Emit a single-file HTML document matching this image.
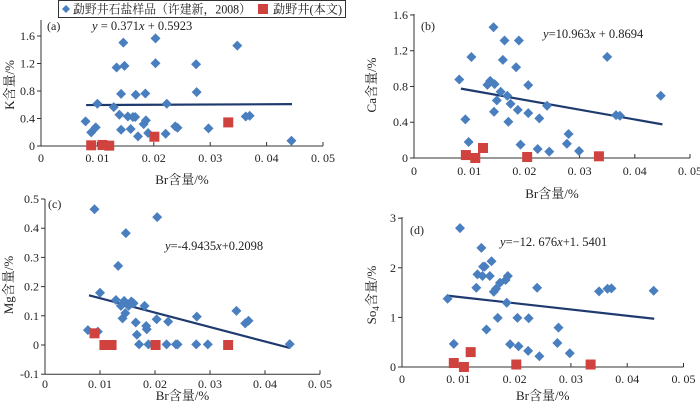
<!DOCTYPE html>
<html><head><meta charset="utf-8"><style>
html,body{margin:0;padding:0;background:#fff;}
svg{display:block;font-family:"Liberation Serif","Noto Serif CJK SC","Noto Sans CJK SC",serif;}
</style></head><body>
<svg id="chart" width="700" height="403" viewBox="0 0 700 403" xmlns="http://www.w3.org/2000/svg"></svg>
<script>
// ---- data: panel (a) K ----
const aBlueX=[0.0079,0.0089,0.0097,0.0100,0.0129,0.0134,0.0139,0.0142,0.0142,0.0146,0.0148,0.0154,0.0159,0.0163,0.0167,0.0168,0.0172,0.0182,0.0185,0.0186,0.0190,0.0203,0.0203,0.0221,0.0223,0.0238,0.0242,0.0275,0.0276,0.0297,0.0348,0.0363,0.0370,0.0444];
const aBlueY=[0.358,0.198,0.271,0.614,0.566,1.141,0.454,0.237,0.759,1.503,1.165,0.430,0.247,0.421,0.421,0.745,0.140,0.319,0.764,0.372,0.189,1.566,1.204,0.179,0.614,0.285,0.266,1.189,0.783,0.256,1.460,0.430,0.440,0.077];
const aRedX=[0.0089,0.0109,0.0121,0.0201,0.0332];
const aRedY=[0.01,0.015,0.005,0.135,0.343];
// ---- panel (b) Ca ----
const bBlueX=[0.0082,0.0093,0.0099,0.0104,0.0133,0.0138,0.0145,0.0146,0.0144,0.0150,0.0157,0.0161,0.0164,0.0169,0.0171,0.0175,0.0185,0.0188,0.0190,0.0193,0.0207,0.0207,0.0227,0.0224,0.0241,0.0245,0.0277,0.0280,0.0299,0.0350,0.0366,0.0373,0.0447];
const bBlueY=[0.878,0.432,0.179,1.130,0.818,0.863,0.517,0.826,1.462,0.644,0.741,1.098,1.314,0.696,0.406,0.606,1.015,0.539,1.314,0.149,0.815,0.502,0.443,0.100,0.584,0.071,0.160,0.268,0.078,1.131,0.480,0.473,0.696];
const bRedX=[0.0094,0.0111,0.0125,0.0205,0.0335];
const bRedY=[0.033,0.0,0.112,0.011,0.019];
// ---- panel (c) Mg ----
const cBlueX=[0.0078,0.0090,0.0096,0.0100,0.0129,0.0133,0.0138,0.0141,0.0144,0.0146,0.0147,0.0152,0.0157,0.0161,0.0165,0.0167,0.0171,0.0181,0.0184,0.0185,0.0188,0.0203,0.0204,0.0221,0.0224,0.0238,0.0241,0.0275,0.0276,0.0296,0.0348,0.0364,0.0370,0.0445];
const cBlueY=[0.051,0.465,0.046,0.179,0.154,0.271,0.134,0.091,0.151,0.109,0.383,0.134,0.149,0.143,0.077,0.035,0.002,0.134,0.065,0.054,0.002,0.088,0.438,0.002,0.080,0.002,0.002,0.002,0.097,0.002,0.117,0.074,0.083,0.003];
const cRedX=[0.0090,0.0108,0.0121,0.0201,0.0333];
const cRedY=[0.04,0,0,0,0];
// ---- panel (d) SO4 ----
const dBlueX=[0.0081,0.0092,0.0103,0.0132,0.0134,0.0141,0.0143,0.0144,0.0147,0.0150,0.0156,0.0159,0.0163,0.0167,0.0170,0.0174,0.0184,0.0186,0.0188,0.0192,0.0205,0.0207,0.0225,0.0224,0.0240,0.0244,0.0276,0.0278,0.0298,0.0350,0.0365,0.0372,0.0447];
const dBlueY=[1.376,0.465,2.799,1.598,1.868,2.401,1.834,2.023,2.023,0.755,1.834,2.131,1.517,1.578,0.991,1.699,1.753,1.295,1.834,0.458,0.991,0.418,0.984,0.324,1.598,0.216,0.485,0.795,0.276,1.524,1.578,1.585,1.537];
const dRedX=[0.0092,0.0110,0.0122,0.0203,0.0335];
const dRedY=[0.08,0,0.30,0.05,0.05];
// ---- tick labels ----
const xTickVals=[0,0.01,0.02,0.03,0.04,0.05];
const xTickLabels=["0","0. 01","0. 02","0. 03","0. 04","0. 05"];
const aYTicks=[0,0.4,0.8,1.2,1.6];
const aYLabels=["0","0.4","0.8","1.2","1.6"];
const bYTicks=[0,0.4,0.8,1.2,1.6];
const bYLabels=["0","0.4","0.8","1.2","1.6"];
const cYTicks=[-0.1,0,0.1,0.2,0.3,0.4,0.5];
const cYLabels=["-0.1","0","0.1","0.2","0.3","0.4","0.5"];
const dYTicks=[0,1,2,3];
const dYLabels=["0","1","2","3"];
// regression: slope, intercept, x range
const aFit=[0.371,0.5923,0.008,0.0445];
const bFit=[-10.963,0.8694,0.0085,0.045];
const cFit=[-4.9435,0.2098,0.008,0.0445];
const dFit=[-12.676,1.5401,0.0082,0.0448];

const NS="http://www.w3.org/2000/svg";
const svg=document.getElementById('chart');
function mk(tag,attrs,parent){const e=document.createElementNS(NS,tag);for(const k in attrs)e.setAttribute(k,attrs[k]);(parent||svg).appendChild(e);return e;}

function panel(id,cfg){
  const g=mk('g',{});
  
  
  const X=v=>cfg.x0+v*cfg.xs, Y=v=>cfg.y0-v*cfg.ys;
  const axisY=Y(cfg.yTicks[0]);
  const top=cfg.top;
  const ya=mk('line',{x1:X(0),y1:top,x2:X(0),y2:axisY,stroke:'#333','stroke-width':1},g);
  
  
  const xa=mk('line',{x1:X(0),y1:axisY,x2:X(0.05),y2:axisY,stroke:'#333','stroke-width':1},g);
  
  
  xTickVals.forEach((v,i)=>{
    mk('line',{x1:X(v),y1:axisY,x2:X(v),y2:axisY-4,stroke:'#333'},g);
    const t=mk('text',{x:X(v),y:axisY+cfg.xlab,'text-anchor':'middle','font-size':12,fill:'#222'},g);
    t.textContent=xTickLabels[i];
    
    
  });
  cfg.yTicks.forEach((v,i)=>{
    mk('line',{x1:X(0)-4,y1:Y(v),x2:X(0),y2:Y(v),stroke:'#333'},g);
    const t=mk('text',{x:X(0)-6,y:Y(v)+4,'text-anchor':'end','font-size':12,fill:'#222'},g);
    t.textContent=cfg.yLabels[i];
    
    
  });
  const f=cfg.fit;
  const ln=mk('line',{x1:X(f[2]),y1:Y(f[0]*f[2]+f[1]),x2:X(f[3]),y2:Y(f[0]*f[3]+f[1]),stroke:'#1f3a6e','stroke-width':2.2},g);
  
  
  cfg.bx.forEach((v,i)=>{
    const cx=X(v),cy=Y(cfg.by[i]);
    const p=mk('polygon',{points:`${cx},${cy-5} ${cx+5},${cy} ${cx},${cy+5} ${cx-5},${cy}`,fill:'#4a7fbf'},g);
    
    
  });
  cfg.rx.forEach((v,i)=>{
    const cx=X(v),cy=Y(cfg.ry[i]);
    const r=mk('rect',{x:cx-5,y:cy-5,width:10,height:10,fill:'#d0423d'},g);
    
    
  });
  const pl=mk('text',{x:cfg.pl[0],y:cfg.pl[1],'font-size':12,fill:'#222'},g);
  pl.textContent='('+id+')';
  
  
  const eq=mk('text',{x:cfg.eq[0],y:cfg.eq[1],'font-size':12.5,fill:'#222'},g);
  eq.innerHTML=cfg.eqText;
  
  
  const xt=mk('text',{x:X(0.025),y:cfg.xt,'text-anchor':'middle','font-size':13,fill:'#222'},g);
  xt.textContent='Br含量/%';
  
  
  const yt=mk('text',{x:0,y:0,'text-anchor':'middle','font-size':13,fill:'#222',transform:`translate(${cfg.yt[0]},${cfg.yt[1]}) rotate(-90)`},g);
  yt.innerHTML=cfg.ytText;
  
  
}

panel('a',{x0:41,xs:5640,y0:146,ys:68.75,top:20,yTicks:aYTicks,yLabels:aYLabels,bx:aBlueX,by:aBlueY,rx:aRedX,ry:aRedY,fit:aFit,
  xlab:16,xt:184,pl:[47,30],eq:[92,30],eqText:'<tspan font-style="italic">y</tspan> = 0.371<tspan font-style="italic">x</tspan> + 0.5923',yt:[14,85],ytText:'K含量/%'});
panel('b',{x0:414,xs:5520,y0:158,ys:89.4,top:14,yTicks:bYTicks,yLabels:bYLabels,bx:bBlueX,by:bBlueY,rx:bRedX,ry:bRedY,fit:bFit,
  xlab:17,xt:198,pl:[421,30],eq:[543,38],eqText:'<tspan font-style="italic">y</tspan>=10.963<tspan font-style="italic">x</tspan> + 0.8694',yt:[376,85],ytText:'Ca含量/%'});
panel('c',{x0:45,xs:5500,y0:345,ys:292,top:199,yTicks:cYTicks,yLabels:cYLabels,bx:cBlueX,by:cBlueY,rx:cRedX,ry:cRedY,fit:cFit,
  xlab:14,xt:400,pl:[48,208],eq:[165,250],eqText:'<tspan font-style="italic">y</tspan>=-4.9435<tspan font-style="italic">x</tspan>+0.2098',yt:[13,285],ytText:'Mg含量/%'});
panel('d',{x0:402,xs:5630,y0:367,ys:49.6,top:217,yTicks:dYTicks,yLabels:dYLabels,bx:dBlueX,by:dBlueY,rx:dRedX,ry:dRedY,fit:dFit,
  xlab:16,xt:400,pl:[410,234],eq:[500,246],eqText:'<tspan font-style="italic">y</tspan>=−12. 676<tspan font-style="italic">x</tspan>+1. 5401',yt:[376,295],ytText:'So<tspan font-size="9" dy="3">4</tspan><tspan dy="-3">含量/%</tspan>'});

// legend
const lg=mk('g',{});


mk('rect',{x:58.5,y:0.5,width:287,height:17,fill:'#fff',stroke:'#333','stroke-width':1},lg);
mk('polygon',{points:'66,5 70,9 66,13 62,9',fill:'#4a7fbf'},lg);
const l1=mk('text',{x:73,y:13.5,'font-size':12.5,fill:'#222',textLength:178,lengthAdjust:'spacingAndGlyphs'},lg);
l1.textContent='勐野井石盐样品（许建新，2008）';


mk('rect',{x:258,y:4,width:10,height:10,fill:'#d0423d'},lg);
const l2=mk('text',{x:273,y:13.5,'font-size':12.5,fill:'#222',textLength:69,lengthAdjust:'spacingAndGlyphs'},lg);
l2.textContent='勐野井(本文)';


</script>
</body></html>
